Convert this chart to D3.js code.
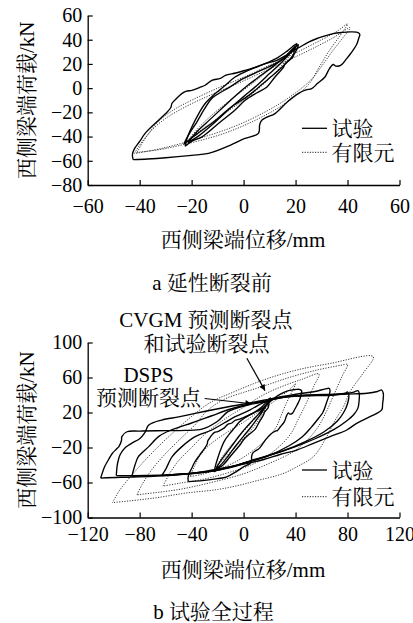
<!DOCTYPE html>
<html><head><meta charset="utf-8">
<script src="https://cdn.jsdelivr.net/npm/d3@7"></script>
<style>
body{margin:0;background:#fff}
svg{display:block}
text{font-family:"Liberation Serif","Noto Serif CJK SC","Noto Sans CJK SC",serif;fill:#000}
</style>
</head><body>
<svg id="c" width="413" height="623"></svg>
<script>
// ---------- data ----------
const topXTicks = [-60,-40,-20,0,20,40,60];
const topYTicks = [-80,-60,-40,-20,0,20,40,60];
const botXTicks = [-120,-80,-40,0,40,80,120];
const botYTicks = [-100,-60,-20,20,60,100];
const yTitle = "西侧梁端荷载/kN";
const xTitle = "西侧梁端位移/mm";
const captionA = "a 延性断裂前";
const captionB = "b 试验全过程";
const legendLabels = ["试验","有限元"];
const annoCVGM = ["CVGM 预测断裂点","和试验断裂点"];
const annoDSPS = ["DSPS","预测断裂点"];
const arrowCVGM = [[2.5,82],[16.5,45]];
const arrowDSPS = [[-30,36],[6,30]];

// test loops before ductile fracture (displacement mm, load kN)
const testLoopOuter = [[-42.5,-59],[-42.8,-55],[-42,-50],[-40,-44],[-37.9,-37.4],[-34,-29],[-30,-21],[-28,-16],[-27.6,-12.7],[-26,-9],[-23.8,-4.5],[-22,-2.5],[-19.9,-1.8],[-17,0.5],[-14.8,2.4],[-12.2,6.5],[-9,8],[-7,10.6],[-3,12.5],[0.6,14.7],[4,17],[8.3,20.2],[12.8,23],[17,28],[21.7,34],[25,38],[28,40.8],[31,43],[34.5,45],[38,46],[41,46.5],[43.5,46.2],[44.7,44.5],[44.3,41],[43.5,36],[42,31],[41,28],[39.5,24],[37.5,19],[35.5,18.2],[34.5,19.5],[33,16],[31.3,9.2],[28.5,4],[26.2,-0.4],[24,-1.5],[21,-4.5],[17,-11],[12.1,-21],[9,-24],[7,-26.5],[6.2,-30],[5.7,-37.4],[0,-42],[-5,-47],[-13.5,-53.9],[-20,-55.5],[-30,-57.5],[-37,-58.5],[-42.5,-59]];
const testLoopInnerA = [[-22.5,-48],[-22,-43],[-19.9,-32],[-17,-20],[-14.8,-12.7],[-10.9,-4.5],[-7,2.4],[-3.3,9.2],[1.8,14.7],[8.3,20.2],[13,25],[17,31],[20.5,36.7],[19.5,31],[19,25.7],[16,20.2],[15.4,17.4],[12,9],[9,1],[5,-4],[0.6,-10],[-3.3,-18],[-9.7,-29.2],[-16,-40.2],[-20,-44],[-22.5,-48]];
const testLoopInnerB = [[-21.5,-45],[-18,-36],[-13,-26],[-8,-16],[-3,-6],[2,3],[7,11],[12,19],[16,26],[20,35],[17.5,28],[14,20],[10,12],[5,2],[0,-7],[-6,-18],[-12,-30],[-17,-39],[-21.5,-45]];
const testLoopInnerC = [[-23,-46],[-21,-38],[-18,-28],[-15,-17],[-12,-8],[-6,0],[0,8],[6,14],[12,20],[17,27],[21,36],[20,30],[17,22],[12,12],[7,3],[2,-6],[-5,-16],[-11,-27],[-18,-38],[-23,-46]];

// test loops after ductile fracture
const testLoop60 = [[-63,-52],[-60,-45],[-55,-30.5],[-47.5,-19],[-37.3,-7.6],[-24.5,0],[-15,8],[-6.5,15.2],[5,23],[14,30.5],[20,34],[30,38],[45,42],[55,44],[63,47],[66,47.5],[66.5,44],[64,32],[61,20],[58,14],[52,3],[45,-8],[35,-18],[18,-30],[0,-38],[-8,-42],[-25,-47],[-45,-50],[-63,-52]];
const testLoop80 = [[-86,-53],[-84,-42],[-81,-30.5],[-73,-19],[-65.5,-7.6],[-59,-2],[-50,3],[-40,8],[-25,16],[-10,24],[5,30],[17,33],[30,37],[50,40],[70,41],[78,42],[80,43.5],[81,40],[80,30],[77,20],[72,10],[62,-2],[48,-13],[30,-24],[10,-33],[-10,-42],[-30,-48],[-55,-51],[-86,-53]];
const testLoop95 = [[-98,-52],[-97,-38],[-95,-28],[-91,-20],[-86,-15],[-80,-10],[-76,-3],[-73,5.7],[-63,11.4],[-50,15],[-37.3,19],[-11.7,26.6],[5,31],[16.5,34.3],[30,38],[50,39],[70,40],[84,43],[88,45],[89,42],[89,35],[88,25],[85,18],[79,10],[70,1],[55,-10],[40,-19],[20,-29],[0,-38],[-20,-46],[-50,-51],[-75,-52],[-98,-52]];
const testLoop110 = [[-110,-55],[-107,-42],[-104,-34],[-101,-26.6],[-98,-22],[-96,-19],[-94,-12],[-93.7,-7.6],[-89.8,-2],[-80,-1.2],[-60,-0.8],[-45,-0.5],[-32,1],[-20,10],[-12,21],[3.5,28.6],[16.3,32.4],[25,36],[40,39],[60,40],[80,41],[95,42],[103,44],[106.3,45.7],[107.5,42],[107.5,36],[107,30],[106.3,22.9],[97.3,15.2],[87,7.6],[79.4,0],[66.5,-7.6],[53.7,-15.2],[41,-22.9],[28,-28],[15,-34],[-10,-42],[-25,-46],[-43,-50],[-70,-53],[-95,-54],[-110,-55]];

// finite element loops
const feLoop40A = [[-41,-53],[-38,-42],[-33,-28],[-27,-18],[-20,-10],[-10,0],[0,9],[10,19],[20,29],[30,40],[36,47],[40,53],[37,43],[33,31],[29,17],[25,3],[16,-12.7],[5,-26],[-7,-37],[-20,-45],[-33,-51],[-41,-53]];
const feLoop40B = [[-42,-54],[-40,-47],[-35,-34],[-30,-25],[-22,-15],[-12,-5],[0,6],[12,18],[24,30],[34,41],[41,50],[38,41],[34,30],[30,18],[26,7],[18,-7],[8,-20],[-4,-32],[-18,-42],[-32,-50],[-42,-54]];
const feLoop20 = [[-21,-42],[-17,-32],[-11,-20],[-4,-8],[4,5],[12,19],[20,34],[16,22],[10,8],[3,-5],[-6,-19],[-14,-31],[-21,-42]];
const feLoop60 = [[-62,-64],[-57,-50],[-50,-35],[-40,-20],[-30,-5],[-15,12],[0,26],[15,40],[30,50],[45,58],[58,64],[54,50],[48,30],[42,12],[36,-5],[25,-22],[10,-37],[-10,-48],[-30,-56],[-50,-61],[-62,-64]];
const feLoop80 = [[-82,-74],[-78,-62],[-72,-48],[-62,-30],[-50,-12],[-38,5],[-28,22],[-15,35],[0,43],[15,50],[35,60],[55,68],[75,74],[80,75],[76,62],[70,42],[64,22],[58,5],[50,-10],[38,-25],[20,-38],[0,-50],[-25,-60],[-50,-68],[-82,-74]];
const feLoop100 = [[-101,-83],[-95,-68],[-88,-55],[-78,-38],[-65,-18],[-52,0],[-38,18],[-25,32],[-10,42],[15,57],[41,68.6],[66.5,76],[99.8,83.8],[92,65],[82,44],[77,27],[70,10],[64,-7.6],[54,-30],[41,-42],[30,-50],[10,-58],[-3,-63],[-20,-68],[-44,-72],[-70,-78],[-101,-83]];

const topTest = [testLoopOuter, testLoopInnerA, testLoopInnerB, testLoopInnerC];
const topFE = [feLoop40A, feLoop40B, feLoop20];
const botTest = [testLoopOuter, testLoopInnerA, testLoopInnerB, testLoop60, testLoop80, testLoop95, testLoop110];
const botFE = [feLoop40A, feLoop20, feLoop60, feLoop80, feLoop100];

// ---------- drawing ----------
const svg = d3.select("#c");
const defs = svg.append("defs");
defs.append("marker").attr("id","ah").attr("viewBox","0 0 10 10")
  .attr("refX",10).attr("refY",5).attr("markerWidth",9).attr("markerHeight",6)
  .attr("markerUnits","userSpaceOnUse").attr("orient","auto")
  .append("path").attr("d","M0,0L10,5L0,10Z").attr("fill","#000");

function panel(cfg){
  const x = d3.scaleLinear().domain(cfg.xDom).range([87.7,399.5]);
  const y = d3.scaleLinear().domain(cfg.yDom).range(cfg.yRange);
  const g = svg.append("g");
  const line = d3.line().x(d=>x(d[0])).y(d=>y(d[1])).curve(d3.curveCatmullRom.alpha(0.5));

  // FE curves (dotted)
  g.selectAll("path.fe").data(cfg.fe).join("path").attr("class","fe")
    .attr("d",line).attr("fill","none").attr("stroke","#222")
    .attr("stroke-width",0.9).attr("stroke-dasharray","1.2,1.4");
  // test curves (solid)
  g.selectAll("path.tst").data(cfg.test).join("path").attr("class","tst")
    .attr("d",line).attr("fill","none").attr("stroke","#000")
    .attr("stroke-width",1.35).attr("stroke-linejoin","round");

  // axes
  const xa = g.append("g").attr("transform",`translate(0,${cfg.yRange[0]})`)
    .call(d3.axisBottom(x).tickValues(cfg.xTicks).tickSizeInner(-5).tickSizeOuter(0)
      .tickPadding(cfg.xPad).tickFormat(d=>d<0?"\u2212"+(-d):d));
  const ya = g.append("g").attr("transform","translate(87.7,0)")
    .call(d3.axisLeft(y).tickValues(cfg.yTicks).tickSizeInner(-5).tickSizeOuter(0)
      .tickPadding(5.5).tickFormat(d=>d<0?"\u2212"+(-d):d));
  [xa,ya].forEach(a=>{
    a.attr("font-family",null).attr("font-size",null);
    a.selectAll("path.domain").attr("stroke","#000").attr("stroke-width",1.3);
    a.selectAll(".tick line").attr("stroke","#000").attr("stroke-width",1.2);
    a.selectAll(".tick text").style("font-size","20px").attr("fill","#000");
  });

  // titles
  svg.append("text").attr("transform",`translate(27,${(cfg.yRange[0]+cfg.yRange[1])/2}) rotate(-90)`)
    .attr("text-anchor","middle").attr("dominant-baseline","central")
    .style("font-size","21px").text(yTitle);
  svg.append("text").attr("x",243).attr("y",cfg.xTitleY).attr("text-anchor","middle")
    .style("font-size","21px").text(xTitle);
  svg.append("text").attr("x",cfg.capX).attr("y",cfg.capY).attr("text-anchor","middle")
    .style("font-size","21px").text(cfg.caption);

  // legend
  const lg = svg.append("g");
  legendLabels.forEach((t,i)=>{
    const cy = cfg.legY + i*cfg.legGap;
    lg.append("line").attr("x1",302).attr("x2",327).attr("y1",cy).attr("y2",cy)
      .attr("stroke","#000").attr("stroke-width",i===0?1.3:0.9)
      .attr("stroke-dasharray",i===0?null:"1.2,1.4");
    lg.append("text").attr("x",331.5).attr("y",cy+7.5).style("font-size","21px").text(t);
  });
  return {x,y};
}

panel({xDom:[-60,60], yDom:[-80,60], yRange:[185,15.5], xTicks:topXTicks, yTicks:topYTicks,
  xPad:13.5, test:topTest, fe:topFE, xTitleY:247, capX:212, capY:289.5, caption:captionA,
  legY:128.3, legGap:24});

const b = panel({xDom:[-120,120], yDom:[-100,100], yRange:[517.5,342.5], xTicks:botXTicks, yTicks:botYTicks,
  xPad:9, test:botTest, fe:botFE, xTitleY:577, capX:213.5, capY:619, caption:captionB,
  legY:470, legGap:26.7});

// annotations
svg.append("text").attr("x",206).attr("y",327).attr("text-anchor","middle").style("font-size","21px").text(annoCVGM[0]);
svg.append("text").attr("x",206.5).attr("y",351).attr("text-anchor","middle").style("font-size","21px").text(annoCVGM[1]);
svg.append("text").attr("x",148.5).attr("y",381.5).attr("text-anchor","middle").style("font-size","21px").text(annoDSPS[0]);
svg.append("text").attr("x",148.5).attr("y",404.5).attr("text-anchor","middle").style("font-size","21px").text(annoDSPS[1]);
[arrowCVGM, arrowDSPS].forEach(a=>{
  svg.append("line").attr("x1",b.x(a[0][0])).attr("y1",b.y(a[0][1]))
    .attr("x2",b.x(a[1][0])).attr("y2",b.y(a[1][1]))
    .attr("stroke","#000").attr("stroke-width",1.2).attr("marker-end","url(#ah)");
});
</script>
</body></html>
